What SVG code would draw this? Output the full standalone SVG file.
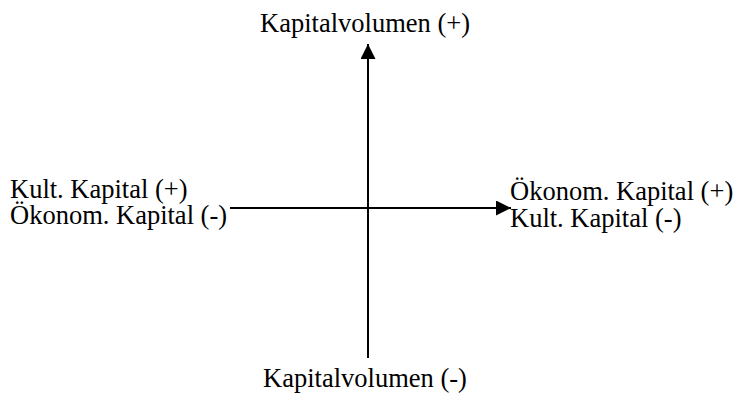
<svg xmlns="http://www.w3.org/2000/svg" width="734" height="394" viewBox="0 0 734 394">
<style>
text{font-family:'Liberation Serif','Times New Roman',Times,serif;font-size:26.5px;fill:#000}
.ax{stroke:#000;stroke-width:2;fill:none}
</style>
<defs>
<marker id="ah" markerUnits="userSpaceOnUse" markerWidth="16" markerHeight="16" refX="15" refY="7.5" orient="auto">
<path d="M0,0 L15,7.5 L0,15 Z" fill="#000"/>
</marker>
</defs>
<rect width="734" height="394" fill="#fff"/>
<g id="connectors">
<line class="ax" x1="368" y1="358" x2="368" y2="44" marker-end="url(#ah)"/>
<line class="ax" x1="230" y1="208" x2="511" y2="208" marker-end="url(#ah)"/>
</g>
<g id="top"><text x="365" y="32" text-anchor="middle">Kapitalvolumen (+)</text></g>
<g id="bottom"><text x="365" y="387" text-anchor="middle">Kapitalvolumen (-)</text></g>
<g id="left"><text x="10" y="198">Kult. Kapital (+)</text><text x="10" y="224">Ökonom. Kapital (-)</text></g>
<g id="right"><text x="510" y="200">Ökonom. Kapital (+)</text><text x="510" y="227">Kult. Kapital (-)</text></g>
</svg>
